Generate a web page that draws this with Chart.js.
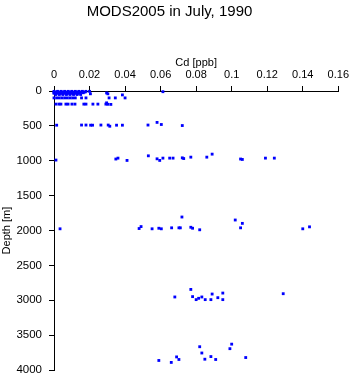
<!DOCTYPE html>
<html>
<head>
<meta charset="utf-8">
<script src="https://cdn.jsdelivr.net/npm/chart.js@4/dist/chart.umd.min.js"></script>
<style>
html,body{margin:0;padding:0;background:#fff;}
#wrap{width:353px;height:384px;}
</style>
</head>
<body>
<div id="wrap"><canvas id="c" width="353" height="384"></canvas></div>
<script>
// Cd [ppb] and depth [m] samples, grouped by depth band
const cdSurface = [0.000,0.002,0.004,0.006,0.008,0.010,0.012,0.014,0.016,0.018,0.020,
                   0.001,0.003,0.005,0.007,0.009,0.011,0.013,0.015,0.0175,
                   0.000,0.002,0.004,0.006,0.008,0.010,0.012,0.014,0.0165,
                   0.001,0.003,0.005,0.007,0.009,0.011,0.013,0.0205,
                   0.000,0.002,0.004,0.006,0.008,0.010,0.012,0.014,
                   0.001,0.003,0.005,0.007,0.009,0.011,0.013,0.015,
                   0.0613,0.0296,0.0385,0.0303];
const depthSurface = [5,5,5,5,5,5,5,5,5,5,5,
                      15,15,15,15,15,15,15,15,15,
                      25,25,25,25,25,25,25,25,25,
                      40,40,40,40,40,40,40,40,
                      32,32,32,32,32,32,32,32,
                      50,50,50,50,50,50,50,50,
                      10,28,56,40];
const cd100 = [0.000,0.0015,0.003,0.0045,0.006,0.0075,0.009,0.0105,0.012,0.0155,0.018,0.031,0.0345,0.040];
const depth100 = [99,99,99,99,99,99,99,99,99,99,99,99,99,99];
const cd190 = [0.0011,0.0028,0.0039,0.0067,0.0079,0.0101,0.0118,0.0168,0.0180,0.0219,0.0247,0.0292,0.0303,0.0320,0.0296];
const depth190 = [188,188,188,188,188,188,188,188,188,188,188,188,190,192,170];
const cd500 = [0.0015,0.0155,0.018,0.0206,0.0217,0.0264,0.0305,0.0314,0.0352,0.0385,0.0529,0.058,0.0604,0.0722];
const depth500 = [490,488,488,490,490,488,488,505,490,490,488,450,480,495];
const cd1000 = [0.0011,0.0348,0.036,0.0411,0.0531,0.058,0.0595,0.0613,0.0651,0.067,0.0722,0.073,0.077,0.086,0.089,0.105,0.106,0.119,0.124];
const depth1000 = [990,975,962,995,929,972,995,962,962,962,958,968,948,948,905,975,981,962,962];
const cd2000 = [0.0034,0.0479,0.049,0.0552,0.059,0.0604,0.0662,0.0703,0.0711,0.072,0.077,0.078,0.082,0.102,0.105,0.106,0.140,0.1438];
const depth2000 = [1975,1971,1943,1975,1967,1975,1961,1961,1961,1806,1953,1967,1989,1849,1961,1897,1975,1947];
const cd3000 = [0.068,0.077,0.078,0.080,0.0814,0.0832,0.0851,0.0883,0.089,0.0922,0.095,0.095,0.129];
const depth3000 = [2952,2844,2947,2990,2971,2952,2990,2990,2910,2962,2896,2990,2905];
const cd3800 = [0.059,0.066,0.069,0.0703,0.082,0.0832,0.0849,0.0883,0.091,0.099,0.100,0.1079];
const depth3800 = [3862,3890,3811,3848,3665,3755,3844,3806,3848,3693,3628,3820];

const xTickValues = [0,0.02,0.04,0.06,0.08,0.1,0.12,0.14,0.16];
const xTickLabels = ['0','0.02','0.04','0.06','0.08','0.1','0.12','0.14','0.16'];
const yTickValues = [0,500,1000,1500,2000,2500,3000,3500,4000];
const yTickLabels = ['0','500','1000','1500','2000','2500','3000','3500','4000'];

const cdAll = [].concat(cdSurface, cd100, cd190, cd500, cd1000, cd2000, cd3000, cd3800);
const depthAll = [].concat(depthSurface, depth100, depth190, depth500, depth1000, depth2000, depth3000, depth3800);
const pts = cdAll.map((x, i) => ({x: x, y: depthAll[i]}));

function labelFor(values, labels, v) {
  let best = 0;
  for (let i = 1; i < values.length; i++) {
    if (Math.abs(values[i] - v) < Math.abs(values[best] - v)) best = i;
  }
  return labels[best];
}

const FONT = 'Liberation Sans';
const TITLE_H = 15 * 1.2 + 3;

new Chart(document.getElementById('c'), {
  type: 'scatter',
  data: {
    datasets: [{
      data: pts,
      backgroundColor: '#0000ff',
      borderColor: '#0000ff',
      borderWidth: 0,
      pointStyle: 'rect',
      pointRadius: 2,
      pointHoverRadius: 2,
      clip: false
    }]
  },
  options: {
    responsive: false,
    animation: false,
    events: [],
    layout: { padding: { left: 0, right: 14, top: 0, bottom: 9 } },
    plugins: {
      legend: { display: false },
      tooltip: { enabled: false },
      title: {
        display: true,
        text: 'MODS2005 in July, 1990',
        color: '#000',
        font: { family: FONT, size: 15, weight: 'normal' },
        padding: { top: 3, bottom: 0 }
      }
    },
    scales: {
      x: {
        type: 'linear',
        position: 'top',
        min: 0, max: 0.16,
        afterFit: (s) => { s.height = 91 - TITLE_H; },
        ticks: {
          stepSize: 0.02,
          color: '#000',
          font: { family: FONT, size: 11 },
          padding: 4,
          maxRotation: 0,
          callback: (v) => labelFor(xTickValues, xTickLabels, v)
        },
        grid: { drawOnChartArea: false, drawTicks: true, tickLength: 5, color: '#000' },
        border: { display: true, color: '#000', width: 1 },
        title: {
          display: true,
          text: 'Cd [ppb]',
          color: '#000',
          font: { family: FONT, size: 11 },
          padding: { top: 35.5, bottom: 0 }
        }
      },
      y: {
        type: 'linear',
        position: 'left',
        reverse: true,
        min: 0, max: 4000,
        afterFit: (s) => { s.width = 54; },
        ticks: {
          stepSize: 500,
          color: '#000',
          font: { family: FONT, size: 11.5 },
          padding: 7,
          callback: (v) => labelFor(yTickValues, yTickLabels, v)
        },
        grid: { drawOnChartArea: false, drawTicks: true, tickLength: 5, color: '#000' },
        border: { display: true, color: '#000', width: 1 },
        title: {
          display: true,
          text: 'Depth [m]',
          color: '#000',
          font: { family: FONT, size: 11 },
          padding: { top: 0, bottom: 0 }
        }
      }
    }
  }
});
</script>
</body>
</html>
